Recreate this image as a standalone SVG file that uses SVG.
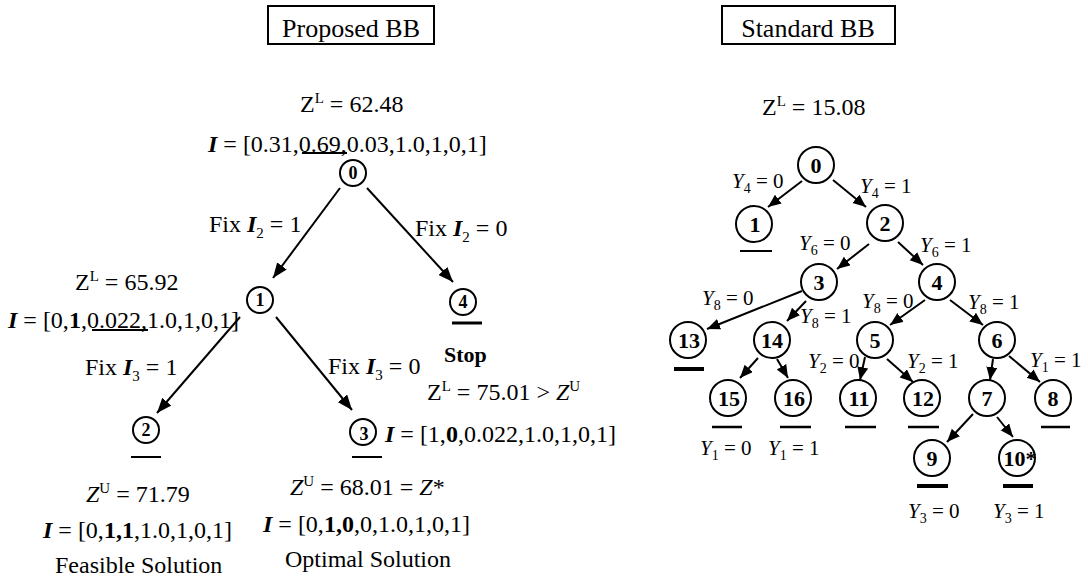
<svg xmlns="http://www.w3.org/2000/svg" width="1088" height="579" viewBox="0 0 1088 579">
<style>
text{font-family:"Liberation Serif","Times New Roman",serif;fill:#000}
.t{font-size:24px}
.h{font-size:26px}
.y{font-size:21px}
.lam{font-weight:bold;font-style:italic}
.b{font-weight:bold}
.it{font-style:italic}
.sup{font-size:15px}
.sub{font-size:15px}
.ysub{font-size:14px}
.nl{font-size:18px;font-weight:bold;text-anchor:middle}
.nr{font-size:22px;font-weight:bold;text-anchor:middle}
circle{fill:#fff;stroke:#000;stroke-width:2}
.e{stroke:#000;stroke-width:2;fill:none}
.er{stroke:#000;stroke-width:2;fill:none}
.ul{stroke:#000;stroke-width:2}
.ulk{stroke:#000;stroke-width:4}
.box{fill:#fff;stroke:#000;stroke-width:2}
</style>
<defs>
<marker id="al" markerUnits="userSpaceOnUse" markerWidth="16" markerHeight="12" refX="15" refY="6" orient="auto"><path d="M0,0 L15,6 L0,12 z" fill="#000"/></marker>
<marker id="ar" markerUnits="userSpaceOnUse" markerWidth="14" markerHeight="12" refX="13" refY="5.5" orient="auto"><path d="M0,0 L13,5.5 L0,11 z" fill="#000"/></marker>
</defs>

<g id="titles">
<rect class="box" x="268" y="6" width="166" height="38"/>
<text class="h" x="351" y="37" text-anchor="middle">Proposed BB</text>
<rect class="box" x="722" y="6" width="173" height="38"/>
<text class="h" x="808" y="37" text-anchor="middle">Standard BB</text>
</g>

<g id="connectors">
<line class="e" x1="340" y1="188" x2="273" y2="278" marker-end="url(#al)"/>
<line class="e" x1="367" y1="188" x2="453" y2="282" marker-end="url(#al)"/>
<line class="e" x1="240" y1="317" x2="157" y2="413" marker-end="url(#al)"/>
<line class="e" x1="276" y1="317" x2="352" y2="410" marker-end="url(#al)"/>

<line class="er" x1="802" y1="181" x2="768" y2="207" marker-end="url(#ar)"/>
<line class="er" x1="833" y1="180" x2="866" y2="207" marker-end="url(#ar)"/>
<line class="er" x1="869" y1="244" x2="837" y2="269" marker-end="url(#ar)"/>
<line class="er" x1="898" y1="242" x2="923" y2="265" marker-end="url(#ar)"/>
<line class="er" x1="802" y1="291" x2="707" y2="329" marker-end="url(#ar)"/>
<line class="er" x1="806" y1="301" x2="787" y2="321" marker-end="url(#ar)"/>
<line class="er" x1="925" y1="300" x2="890" y2="325" marker-end="url(#ar)"/>
<line class="er" x1="950" y1="300" x2="983" y2="325" marker-end="url(#ar)"/>
<line class="er" x1="758" y1="358" x2="740" y2="378" marker-end="url(#ar)"/>
<line class="er" x1="777" y1="359" x2="788" y2="378" marker-end="url(#ar)"/>
<line class="er" x1="865" y1="357" x2="860" y2="380" marker-end="url(#ar)"/>
<line class="er" x1="887" y1="359" x2="913" y2="382" marker-end="url(#ar)"/>
<line class="er" x1="993" y1="359" x2="990" y2="380" marker-end="url(#ar)"/>
<line class="er" x1="1009" y1="356" x2="1040" y2="382" marker-end="url(#ar)"/>
<line class="er" x1="973" y1="414" x2="947" y2="442" marker-end="url(#ar)"/>
<line class="er" x1="997" y1="417" x2="1013" y2="437" marker-end="url(#ar)"/>
</g>

<g id="left-labels">
<text class="t" x="300" y="112">Z<tspan class="sup" dy="-9">L</tspan><tspan dy="9"> = 62.48</tspan></text>
<text class="t" x="208" y="152"><tspan class="lam">I</tspan> = [0.31,0.69,0.03,1.0,1,0,1]</text>
<line class="ul" x1="302" y1="153" x2="347" y2="153"/>
<text class="t" x="209" y="232">Fix <tspan class="lam">I</tspan><tspan class="sub" dy="6">2</tspan><tspan dy="-6"> = 1</tspan></text>
<text class="t" x="415" y="236">Fix <tspan class="lam">I</tspan><tspan class="sub" dy="6">2</tspan><tspan dy="-6"> = 0</tspan></text>
<text class="t" x="75" y="290">Z<tspan class="sup" dy="-9">L</tspan><tspan dy="9"> = 65.92</tspan></text>
<text class="t" x="8" y="328"><tspan class="lam">I</tspan> = [0,<tspan class="b">1</tspan>,0.022,1.0,1,0,1]</text>
<line class="ul" x1="92" y1="330" x2="148" y2="330"/>
<text class="t" x="85" y="375">Fix <tspan class="lam">I</tspan><tspan class="sub" dy="6">3</tspan><tspan dy="-6"> = 1</tspan></text>
<text class="t" x="328" y="374">Fix <tspan class="lam">I</tspan><tspan class="sub" dy="6">3</tspan><tspan dy="-6"> = 0</tspan></text>
<text class="t b" x="444" y="362" style="font-size:22px">Stop</text>
<text class="t" x="427" y="400">Z<tspan class="sup" dy="-9">L</tspan><tspan dy="9"> = 75.01 &gt; </tspan><tspan class="it">Z</tspan><tspan class="sup" dy="-9">U</tspan></text>
<text class="t" x="385" y="442"><tspan class="lam">I</tspan> = [1,<tspan class="b">0</tspan>,0.022,1.0,1,0,1]</text>
<text class="t" x="86" y="502"><tspan class="it">Z</tspan><tspan class="sup" dy="-9">U</tspan><tspan dy="9"> = 71.79</tspan></text>
<text class="t" x="43" y="538"><tspan class="lam">I</tspan> = [0,<tspan class="b">1,1</tspan>,1.0,1,0,1]</text>
<text class="t" x="55" y="573">Feasible Solution</text>
<text class="t" x="290" y="495"><tspan class="it">Z</tspan><tspan class="sup" dy="-9">U</tspan><tspan dy="9"> = 68.01 = </tspan><tspan class="it">Z</tspan>*</text>
<text class="t" x="263" y="532"><tspan class="lam">I</tspan> = [0,<tspan class="b">1,0</tspan>,0,1.0,1,0,1]</text>
<text class="t" x="285" y="567">Optimal Solution</text>
</g>

<g id="L0"><circle cx="353" cy="173" r="13"/><text class="nl" x="353" y="179">0</text></g>
<g id="L1"><circle cx="260" cy="300" r="13"/><text class="nl" x="260" y="306">1</text></g>
<g id="L2"><circle cx="146" cy="430" r="13"/><text class="nl" x="146" y="436">2</text><line class="ul" x1="131" y1="457" x2="161" y2="457"/></g>
<g id="L3"><circle cx="363" cy="432" r="13"/><text class="nl" x="364" y="440">3</text><line class="ul" x1="352" y1="457" x2="382" y2="457"/></g>
<g id="L4"><circle cx="463" cy="302" r="13"/><text class="nl" x="463" y="308">4</text><line class="ulk" x1="452" y1="323" x2="482" y2="323" style="stroke-width:3"/></g>

<g id="right-labels">
<text class="t" x="762" y="115">Z<tspan class="sup" dy="-9">L</tspan><tspan dy="9"> = 15.08</tspan></text>
<text class="y" x="732" y="188"><tspan class="it">Y</tspan><tspan class="ysub" dy="5">4</tspan><tspan dy="-5"> = 0</tspan></text>
<text class="y" x="860" y="193"><tspan class="it">Y</tspan><tspan class="ysub" dy="5">4</tspan><tspan dy="-5"> = 1</tspan></text>
<text class="y" x="799" y="250"><tspan class="it">Y</tspan><tspan class="ysub" dy="5">6</tspan><tspan dy="-5"> = 0</tspan></text>
<text class="y" x="920" y="252"><tspan class="it">Y</tspan><tspan class="ysub" dy="5">6</tspan><tspan dy="-5"> = 1</tspan></text>
<text class="y" x="702" y="305"><tspan class="it">Y</tspan><tspan class="ysub" dy="5">8</tspan><tspan dy="-5"> = 0</tspan></text>
<text class="y" x="800" y="323"><tspan class="it">Y</tspan><tspan class="ysub" dy="5">8</tspan><tspan dy="-5"> = 1</tspan></text>
<text class="y" x="862" y="308"><tspan class="it">Y</tspan><tspan class="ysub" dy="5">8</tspan><tspan dy="-5"> = 0</tspan></text>
<text class="y" x="968" y="309"><tspan class="it">Y</tspan><tspan class="ysub" dy="5">8</tspan><tspan dy="-5"> = 1</tspan></text>
<text class="y" x="808" y="368"><tspan class="it">Y</tspan><tspan class="ysub" dy="5">2</tspan><tspan dy="-5"> = 0</tspan></text>
<text class="y" x="907" y="368"><tspan class="it">Y</tspan><tspan class="ysub" dy="5">2</tspan><tspan dy="-5"> = 1</tspan></text>
<text class="y" x="1030" y="367"><tspan class="it">Y</tspan><tspan class="ysub" dy="5">1</tspan><tspan dy="-5"> = 1</tspan></text>
<text class="y" x="700" y="455"><tspan class="it">Y</tspan><tspan class="ysub" dy="5">1</tspan><tspan dy="-5"> = 0</tspan></text>
<text class="y" x="768" y="455"><tspan class="it">Y</tspan><tspan class="ysub" dy="5">1</tspan><tspan dy="-5"> = 1</tspan></text>
<text class="y" x="908" y="518"><tspan class="it">Y</tspan><tspan class="ysub" dy="5">3</tspan><tspan dy="-5"> = 0</tspan></text>
<text class="y" x="993" y="518"><tspan class="it">Y</tspan><tspan class="ysub" dy="5">3</tspan><tspan dy="-5"> = 1</tspan></text>
</g>

<g id="R0"><circle cx="816" cy="165" r="18"/><text class="nr" x="816" y="173">0</text></g>
<g id="R1"><circle cx="754" cy="224" r="18"/><text class="nr" x="755" y="232">1</text><line class="ul" x1="740" y1="251" x2="772" y2="251"/></g>
<g id="R2"><circle cx="885" cy="223" r="18"/><text class="nr" x="885" y="231">2</text></g>
<g id="R3"><circle cx="819" cy="282" r="18"/><text class="nr" x="819" y="290">3</text></g>
<g id="R4"><circle cx="937" cy="282" r="18"/><text class="nr" x="937" y="290">4</text></g>
<g id="R13"><circle cx="688" cy="340" r="18"/><text class="nr" x="689" y="348">13</text><line class="ulk" x1="674" y1="369" x2="704" y2="369"/></g>
<g id="R14"><circle cx="772" cy="340" r="18"/><text class="nr" x="772" y="348">14</text></g>
<g id="R5"><circle cx="875" cy="340" r="18"/><text class="nr" x="875" y="348">5</text></g>
<g id="R6"><circle cx="997" cy="340" r="18"/><text class="nr" x="997" y="348">6</text></g>
<g id="R15"><circle cx="728" cy="398" r="18"/><text class="nr" x="729" y="406">15</text><line class="ul" x1="712" y1="427" x2="742" y2="427" style="stroke-width:2.5"/></g>
<g id="R16"><circle cx="793" cy="398" r="18"/><text class="nr" x="794" y="406">16</text><line class="ul" x1="780" y1="427" x2="811" y2="427" style="stroke-width:2.5"/></g>
<g id="R11"><circle cx="858" cy="398" r="18"/><text class="nr" x="859" y="406">11</text><line class="ul" x1="845" y1="427" x2="876" y2="427" style="stroke-width:2.5"/></g>
<g id="R12"><circle cx="922" cy="398" r="18"/><text class="nr" x="923" y="406">12</text><line class="ul" x1="908" y1="427" x2="939" y2="427" style="stroke-width:2.5"/></g>
<g id="R7"><circle cx="987" cy="398" r="18"/><text class="nr" x="987" y="406">7</text></g>
<g id="R8"><circle cx="1053" cy="398" r="18"/><text class="nr" x="1053" y="406">8</text><line class="ul" x1="1041" y1="427" x2="1070" y2="427" style="stroke-width:2.5"/></g>
<g id="R9"><circle cx="932" cy="458" r="18"/><text class="nr" x="932" y="466">9</text><line class="ulk" x1="917" y1="486" x2="948" y2="486"/></g>
<g id="R10"><circle cx="1017" cy="458" r="18"/><text class="nr" x="1020" y="466">10*</text><line class="ulk" x1="1003" y1="486" x2="1033" y2="486"/></g>
</svg>
